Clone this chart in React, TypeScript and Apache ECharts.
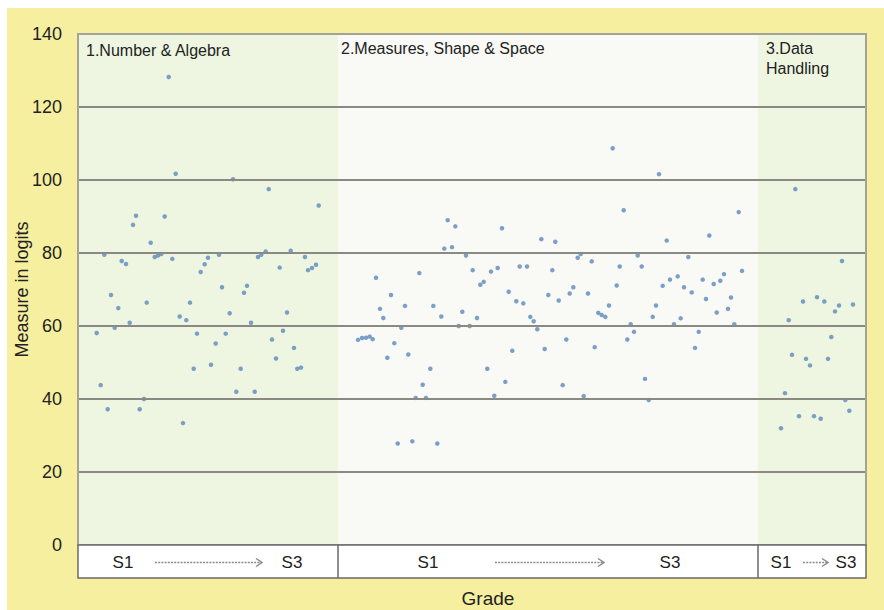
import React, { useEffect, useRef } from "react";
import * as echarts from "echarts";

// x = horizontal position across the plot (0..788), y = measure in logits
const numberAlgebra: [number, number][] = [
  [90.7, 128.2], [97.7, 101.7], [155, 100.2], [190.7, 97.5], [240.7, 93.0], [58, 90.2], [55, 87.7], [86.7, 90.0],
  [72.7, 82.8], [26.3, 79.5], [43.7, 77.8], [48, 77.0], [76.7, 78.9], [80, 79.3], [83.3, 79.7], [94.3, 78.4],
  [130, 78.7], [141, 79.5], [126.7, 76.9], [122.7, 74.8], [180, 78.9], [183.3, 79.5], [187.7, 80.4], [212.7, 80.6],
  [227, 78.9], [201.7, 76.0], [230, 75.3], [234, 75.9], [238, 76.8], [33, 68.5], [40.3, 64.9], [68.7, 66.4],
  [51.7, 60.9], [36.7, 59.5], [18.7, 58.1], [101.7, 62.6], [108.3, 61.6], [112, 66.4], [144, 70.6], [169, 71.0],
  [166, 69.1], [151.7, 63.5], [173, 60.9], [209, 63.7], [205, 58.7], [119, 57.9], [147.7, 57.9], [137.7, 55.2],
  [194, 56.3], [216, 54.0], [198, 51.1], [115.7, 48.3], [133, 49.4], [162.7, 48.3], [219.3, 48.3], [223, 48.6],
  [22.7, 43.8], [158.3, 42.0], [176.7, 42.0], [66, 40.0], [29.7, 37.2], [61.7, 37.2], [105, 33.4],
];

const measuresShapeSpace: [number, number][] = [
  [369.7, 89.0], [377.3, 87.3], [424, 86.8], [463.3, 83.8], [477.3, 83.1], [366.3, 81.2], [374, 81.6], [388, 79.3],
  [341.3, 74.5], [298, 73.2], [394.7, 75.3], [413, 74.9], [419.7, 75.9], [441.7, 76.3], [449, 76.3], [474.3, 75.3],
  [402.3, 71.3], [405.7, 72.1], [430.7, 69.4], [313, 68.5], [470.3, 68.5], [302, 64.7], [327, 65.5], [355.3, 65.5],
  [438.3, 66.8], [445.3, 66.2], [305.3, 62.2], [363.3, 62.6], [384.3, 63.9], [399, 62.2], [452.3, 62.5], [455.7, 61.3],
  [459.3, 59.1], [323.3, 59.5], [380.7, 60.0], [391.7, 60.0], [280, 56.2], [284, 56.7], [288, 56.8], [291.7, 57.1],
  [294.7, 56.4], [316.3, 55.3], [309.3, 51.3], [330.3, 52.2], [352.3, 48.3], [344.7, 43.9], [337.7, 40.3], [348, 40.3],
  [409.3, 48.3], [434.3, 53.2], [427.3, 44.7], [416.3, 40.9], [466.7, 53.7], [319.7, 27.8], [334.3, 28.4], [359.3, 27.8],
  [534.7, 108.7], [581, 101.6], [545.7, 91.7], [660.7, 91.2], [588.7, 83.4], [631.3, 84.8], [499.7, 78.7], [502.7, 79.7],
  [513.7, 77.7], [559.7, 79.3], [610.3, 78.9], [541.7, 76.3], [563.7, 76.3], [664, 75.1], [495.3, 70.6], [538.7, 71.1],
  [584.7, 71.0], [592, 72.7], [599.7, 73.6], [606, 70.6], [624.7, 72.7], [635.7, 71.5], [642.3, 72.4], [646, 74.2],
  [480.7, 67.0], [491.7, 68.9], [510, 68.9], [531, 65.6], [520.3, 63.6], [523.7, 63.0], [527.3, 62.5], [578, 65.6],
  [574.7, 62.5], [613.7, 69.2], [628, 67.4], [653, 67.8], [650, 64.7], [638.7, 63.7], [602.7, 62.1], [552.7, 60.5],
  [596, 60.5], [656.3, 60.5], [556, 58.4], [620.7, 58.4], [488.3, 56.3], [516.7, 54.2], [549.3, 56.3], [617, 54.0],
  [567, 45.5], [484.7, 43.8], [505.7, 40.8], [570.7, 39.7],
];

const dataHandling: [number, number][] = [
  [717.3, 97.5], [764, 77.8], [725, 66.7], [739, 67.9], [746.3, 66.7], [761, 65.6], [757, 64.0], [775, 65.9],
  [710.7, 61.6], [753.3, 57.0], [714, 52.1], [728, 51.0], [732, 49.2], [750, 51.0], [707, 41.6], [767.3, 39.7],
  [771.3, 36.8], [721, 35.3], [736, 35.3], [742.7, 34.6], [703, 32.0],
];

const regionNames = ["1.Number & Algebra", "2.Measures, Shape & Space", "3.Data\nHandling"];
const regionBounds: [number, number][] = [[0, 260], [260, 680], [680, 788]];
const gradeStart = "S1";
const gradeEnd = "S3";
const yTicks = { min: 0, max: 140, interval: 20 };

const FONT = "'Liberation Sans Narrow', 'Liberation Sans', Arial, sans-serif";
const FONT2 = "'Liberation Sans', Arial, sans-serif";

export default function App() {
  const ref = useRef<HTMLDivElement>(null);
  useEffect(() => {
    if (!ref.current) return;
    const chart = echarts.init(ref.current, undefined, { renderer: "svg" });
    const gl = 71, gt = 26, gw = 788, gh = 511;
    const boxTop = gt + gh, boxH = 33;
    const green = "#eef6e1";
    const white = "#f9f9f6";
    const regionColors = [green, white, green];
    const labelOffsets: [number, number][] = [[8, 6], [3, 4], [8, 4]];

    const textEl = (text: string, x: number, y: number, size: number, font = FONT) => ({
      type: "text", z: 101, x, y,
      style: { text, fill: "#222", fontSize: size, fontFamily: font, align: "center", verticalAlign: "middle" },
    });
    const arrowEl = (x1: number, x2: number, y: number) => ({
      type: "group", z: 101,
      children: [
        { type: "line", z: 101, shape: { x1, y1: y, x2: x2 - 1, y2: y }, style: { stroke: "#8a8a8a", lineWidth: 1.5, lineDash: [2, 1.2] } },
        { type: "polyline", z: 101, shape: { points: [[x2 - 6, y - 4], [x2, y], [x2 - 6, y + 4]] }, style: { stroke: "#8a8a8a", lineWidth: 1.5, fill: "none" } },
      ],
    });
    const cy = boxTop + boxH / 2 + 1;
    const xToPx = (v: number) => gl + v;

    chart.setOption({
      animation: false,
      backgroundColor: "#f6ef9f",
      grid: { left: gl, top: gt, width: gw, height: gh, containLabel: false, outerBoundsMode: "none" },
      xAxis: {
        type: "value", min: 0, max: 788,
        axisLine: { show: true, lineStyle: { color: "#666", width: 2 } },
        axisTick: { show: false }, axisLabel: { show: false }, splitLine: { show: false },
        z: 5,
      },
      yAxis: {
        type: "value", min: yTicks.min, max: yTicks.max, interval: yTicks.interval,
        name: "Measure in logits", nameLocation: "middle", nameGap: 47, nameMoveOverlap: false,
        nameTextStyle: { fontSize: 18, color: "#222", fontFamily: FONT2 },
        axisLine: { show: true, lineStyle: { color: "#a3a39a", width: 2 } },
        axisTick: { show: false },
        axisLabel: { fontSize: 18, color: "#222", margin: 16, fontFamily: FONT },
        splitLine: { show: true, lineStyle: { color: "#8a8a82", width: 2 } },
        z: 5,
      },
      series: [
        {
          type: "scatter", z: 2, symbolSize: 4.5, itemStyle: { color: "#5b89bd" },
          data: numberAlgebra,
          markArea: {
            silent: true,
            data: regionBounds.map((b, i) => [
              {
                xAxis: b[0], name: regionNames[i],
                itemStyle: { color: regionColors[i] },
                label: {
                  show: true, position: "insideTopLeft", distance: 0, offset: labelOffsets[i],
                  fontSize: 16, lineHeight: 20, color: "#222", fontFamily: FONT2,
                },
              },
              { xAxis: b[1] },
            ]),
          },
        },
        { type: "scatter", z: 3, symbolSize: 4.5, itemStyle: { color: "#5b89bd" }, data: measuresShapeSpace },
        { type: "scatter", z: 3, symbolSize: 4.5, itemStyle: { color: "#5b89bd" }, data: dataHandling },
      ],
      graphic: [
        { type: "rect", z: 100, shape: { x: gl, y: gt, width: gw, height: gh }, style: { fill: "none", stroke: "#a3a39a", lineWidth: 2 } },
        { type: "rect", z: 100, shape: { x: gl, y: boxTop, width: gw, height: boxH }, style: { fill: "#ffffff", stroke: "#6a6a6a", lineWidth: 1.5 } },
        { type: "line", z: 101, shape: { x1: xToPx(260), y1: boxTop, x2: xToPx(260), y2: boxTop + boxH }, style: { stroke: "#6a6a6a", lineWidth: 1.5 } },
        { type: "line", z: 101, shape: { x1: xToPx(680), y1: boxTop, x2: xToPx(680), y2: boxTop + boxH }, style: { stroke: "#6a6a6a", lineWidth: 1.5 } },
        textEl(gradeStart, xToPx(45), cy, 17),
        textEl(gradeEnd, xToPx(214), cy, 17),
        textEl(gradeStart, xToPx(350), cy, 17),
        textEl(gradeEnd, xToPx(592), cy, 17),
        textEl(gradeStart, xToPx(703), cy, 17),
        textEl(gradeEnd, xToPx(768), cy, 17),
        arrowEl(xToPx(77), xToPx(184), cy),
        arrowEl(xToPx(417), xToPx(526), cy),
        arrowEl(xToPx(725), xToPx(750), cy),
        textEl("Grade", xToPx(410), 590, 19),
      ],
    });
    return () => chart.dispose();
  }, []);
  return <div ref={ref} style={{ position: "fixed", left: 7, top: 8, width: 877, height: 602 }} />;
}
